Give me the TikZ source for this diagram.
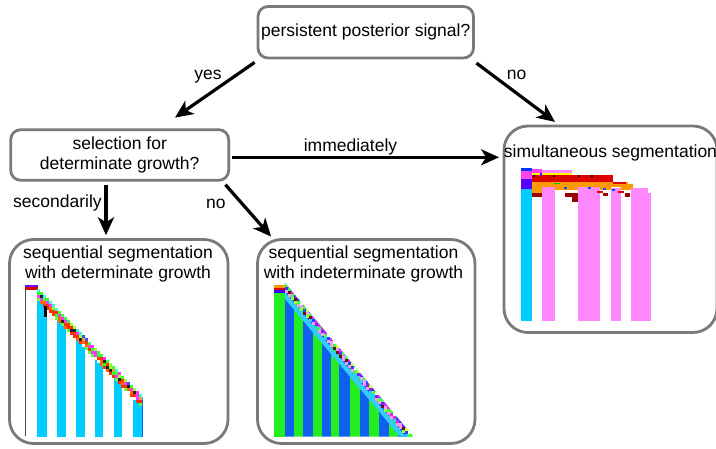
\documentclass[tikz,border=0pt]{standalone}
\usepackage{fontspec}
\setmainfont{Liberation Sans}
\usetikzlibrary{arrows.meta,calc}

\newcommand\dgfont{\fontsize{17.5}{20}\selectfont}

% flat colours of the kymographs
\definecolor{boxgray}{HTML}{7A7A7A}
\definecolor{segcyan}{HTML}{00CCFF}
\definecolor{bandcyan}{HTML}{33CCFF}
\definecolor{segpink}{HTML}{FF88FF}
\definecolor{seggreen}{HTML}{22EE22}
\definecolor{segblue}{HTML}{1060F0}
\definecolor{segred}{HTML}{DD0000}
\definecolor{segorange}{HTML}{FF9900}
\definecolor{segdark}{HTML}{990000}
\definecolor{segpurple}{HTML}{5500FF}
\definecolor{segmagenta}{HTML}{FF44EE}
\definecolor{segyellow}{HTML}{FFFF00}

% front palettes, determinate growth (row = depth in the front)
\definecolor{d00}{HTML}{33FF33}\definecolor{d01}{HTML}{99FF33}\definecolor{d02}{HTML}{FF33FF}
\definecolor{d03}{HTML}{33FFCC}\definecolor{d04}{HTML}{33FF33}\definecolor{d05}{HTML}{3355FF}
\definecolor{d10}{HTML}{33FF33}\definecolor{d11}{HTML}{FF3300}\definecolor{d12}{HTML}{FF33FF}
\definecolor{d13}{HTML}{222222}\definecolor{d14}{HTML}{FF9933}\definecolor{d15}{HTML}{99FF33}
\definecolor{d20}{HTML}{FF3300}\definecolor{d21}{HTML}{FF6600}\definecolor{d22}{HTML}{33FF33}
\definecolor{d23}{HTML}{FF3300}\definecolor{d24}{HTML}{222222}\definecolor{d25}{HTML}{FF33FF}
\definecolor{d30}{HTML}{FF3300}\definecolor{d31}{HTML}{FF6600}\definecolor{d32}{HTML}{FF3300}
\definecolor{d33}{HTML}{66FF33}\definecolor{d34}{HTML}{FFFFFF}\definecolor{d35}{HTML}{FF3300}

% front palettes, indeterminate growth
\definecolor{i00}{HTML}{2244FF}\definecolor{i01}{HTML}{7722FF}\definecolor{i02}{HTML}{EE22FF}
\definecolor{i03}{HTML}{44FF44}\definecolor{i04}{HTML}{FFFFFF}\definecolor{i05}{HTML}{DDFF22}
\definecolor{i10}{HTML}{FF99EE}\definecolor{i11}{HTML}{661111}\definecolor{i12}{HTML}{EE22FF}
\definecolor{i13}{HTML}{2244FF}\definecolor{i14}{HTML}{7722FF}\definecolor{i15}{HTML}{44FF44}
\definecolor{i20}{HTML}{FF99EE}\definecolor{i21}{HTML}{FF99EE}\definecolor{i22}{HTML}{33CCFF}
\definecolor{i23}{HTML}{661111}\definecolor{i24}{HTML}{99FF33}\definecolor{i25}{HTML}{FF99EE}

\begin{document}
\begin{tikzpicture}[x=1pt,y=-1pt,
  qbox/.style={draw=boxgray, line width=2.8pt, rounded corners=10pt, fill=white,
    align=center, inner sep=0pt, font=\dgfont},
  rbox/.style={draw=boxgray, line width=2.8pt, rounded corners=24pt, fill=white, inner sep=0pt},
  txt/.style={align=center, inner sep=0pt, font=\dgfont},
  arr/.style={line width=3.2pt, -{Stealth[length=18pt,width=16pt,inset=5pt]}}]
\useasboundingbox (0,0) rectangle (716,448);

% decision boxes
\node[qbox, minimum width=215.5pt, minimum height=51.5pt] (q1) at (365.75,32.25) {persistent posterior signal?};
\node[qbox, minimum width=218pt, minimum height=50.6pt] (q2) at (119.7,155) {selection for\\determinate growth?};

% outcome boxes
\node[rbox, minimum width=218.5pt, minimum height=204pt] (b1) at (118.75,341.5) {};
\node[rbox, minimum width=217.5pt, minimum height=204pt] (b2) at (366.25,341.5) {};
\node[rbox, minimum width=213pt, minimum height=206.5pt] (b3) at (610.5,229.25) {};

\node[txt, anchor=north] (t1) at (118,245.8) {sequential segmentation\\with determinate growth};
\node[txt, anchor=north] (t2) at (363.5,245.8) {sequential segmentation\\with indeterminate growth};
\node[txt, anchor=north] (t3) at (610.5,144.8) {simultaneous segmentation};

% ---- sequential, determinate growth ----
\foreach \xa/\xb in {37.3/47.3, 57.3/66, 76/85, 95/103.3, 114/122.3, 132.7/143.3}
  \fill[segcyan] (\xa,{289+(\xa-37)*1.03+9}) rectangle (\xb,436.7);
\fill[segblue] (142.3,400) rectangle (143.3,436.7);
\draw[line width=1pt, black!70] (25.5,285) -- (25.5,435.5);
\fill[blue!60!magenta] (25,285) rectangle (38,287);
\fill[segred] (25,287) rectangle (38,289.5);
\pgfmathsetseed{7}
\foreach \x in {37,40,...,140}{
  \pgfmathsetmacro{\yu}{289+(\x-37)*1.03}
  \foreach \k in {0,1,2,3}{
    \pgfmathrandominteger{\ci}{0}{5}
    \fill[fill=d\k\ci] (\x,{\yu+3*\k}) rectangle ++(3,3);
  }
}
\fill[black] (44.3,306) rectangle (46.5,317);

% ---- sequential, indeterminate growth ----
\fill[segorange] (274,285) rectangle (285,287.5);
\fill[segred] (274,287.5) rectangle (285,289.5);
\fill[segpurple!60!blue] (274,289.5) rectangle (285,292.7);
\fill[seggreen] (274,292.7) rectangle (285,436.7);
\begin{scope}
  \clip (285,283) -- (413.4,436.7) -- (285,436.7) -- cycle;
  \foreach \xa/\xb/\c in {285/294/segblue, 294/303.3/seggreen, 303.3/312.7/segblue,
      312.7/321.7/seggreen, 321.7/330.7/segblue, 330.7/339.3/seggreen, 339.3/350/segblue,
      350/360/seggreen, 360/369.3/segblue, 369.3/379.3/seggreen, 379.3/389.3/segblue,
      389.3/398.3/seggreen, 398.3/407.3/segblue, 407.3/414/seggreen}
    \fill[fill=\c] (\xa,280) rectangle (\xb,436.7);
  \fill[bandcyan] (285,292) -- (411.7,443.7) -- (411.7,450.7) -- (285,299) -- cycle;
  \pgfmathsetseed{3}
  \foreach \x in {285,288,...,410}{
    \pgfmathsetmacro{\yd}{285+(\x-285)*1.197}
    \foreach \k in {0,1,2}{
      \pgfmathrandominteger{\ci}{0}{5}
      \fill[fill=i\k\ci] (\x,{\yd+3*\k-1}) rectangle ++(3,3);
    }
  }
\end{scope}

% ---- simultaneous segmentation ----
\fill[blue!80!cyan] (521,168.3) rectangle (532.3,170.7);
\fill[segmagenta] (521,170.7) rectangle (532.3,179.3);
\fill[segpurple] (521,179.3) rectangle (532.3,189.3);
\fill[segcyan] (521,189.3) rectangle (532.3,321);
\fill[segpink] (542.3,186) rectangle (555,321);
\fill[segpink] (577.7,186) rectangle (600,321);
\fill[segpink] (611,188) rectangle (621,321);
\fill[segpink] (631,188) rectangle (648.3,321);
\fill[segpink] (648.3,193) rectangle (651,321);
\fill[segmagenta] (532.3,169) rectangle (542.3,172.7);
\fill[segpink] (542.3,169.7) rectangle (572.3,172.7);
\fill[segyellow] (532.3,172.7) rectangle (572.3,175);
\fill[segred] (532.3,175) rectangle (613.3,181.7);
\fill[segorange] (532.3,181.7) rectangle (628.3,186.7);
\fill[segred] (613.3,181.7) rectangle (626,184);
\fill[segorange] (626,184) rectangle (633,188);
\fill[segorange] (532.3,186.7) rectangle (542.3,192.7);
\fill[segorange] (555,186.7) rectangle (577.7,190);
\fill[segorange] (600,186.7) rectangle (611,190);
\fill[segorange] (621,186.7) rectangle (631,190);
\fill[segdark] (532.3,192.7) rectangle (542.3,196.7);
\fill[segdark] (565,192.7) rectangle (577.7,196.7);
\fill[segdark] (572.3,196.7) rectangle (577.7,201.7);
\fill[segred] (597,190.7) rectangle (603,192.7);
\fill[segdark] (603,192.7) rectangle (608,196);
\fill[segred] (618,190.7) rectangle (624,192.7);
\fill[segdark] (625,192.7) rectangle (630,196.7);
\foreach \xs in {533,553,578,591}
  \fill[black] (\xs,175.3) rectangle ++(2,1.5);
\foreach \xs/\ys in {564/186.5, 588/187, 603/187.5, 612/189}
  \fill[blue!70!cyan] (\xs,\ys) rectangle ++(2.5,2);
\fill[green!80!black] (554,183) rectangle (560,184.2);
\fill[segpurple] (540,173) rectangle (542,176);

% connectors
\draw[arr] ($(q1.south west)+(-2,3)$) -- ($(q2.north)+(55.3,-10.7)$);
\draw[arr] ($(q1.south east)+(1.5,3.7)$) -- ($(b3.north)+(-55.5,-2.7)$);
\draw[arr] ($(q2.east)+(2,2.3)$) -- ($(q2.east -| b3.west)+(-3.5,2.3)$);
\draw[arr] ($(q2.south)+(-13.7,3)$) -- ($(b1.north)+(-12.75,-2.8)$);
\draw[arr] ($(q2.south east)+(-4.7,3)$) -- ($(b2.north west)+(15,-1.5)$);

% connector labels
\node[txt, anchor=base] (lyes) at (208,79) {yes};
\node[txt, anchor=base] (lno1) at (516.7,79) {no};
\node[txt, anchor=base] (limm) at (350.5,151) {immediately};
\node[txt, anchor=base] (lsec) at (57.5,207) {secondarily};
\node[txt, anchor=base] (lno2) at (215.8,208) {no};
\end{tikzpicture}
\end{document}
